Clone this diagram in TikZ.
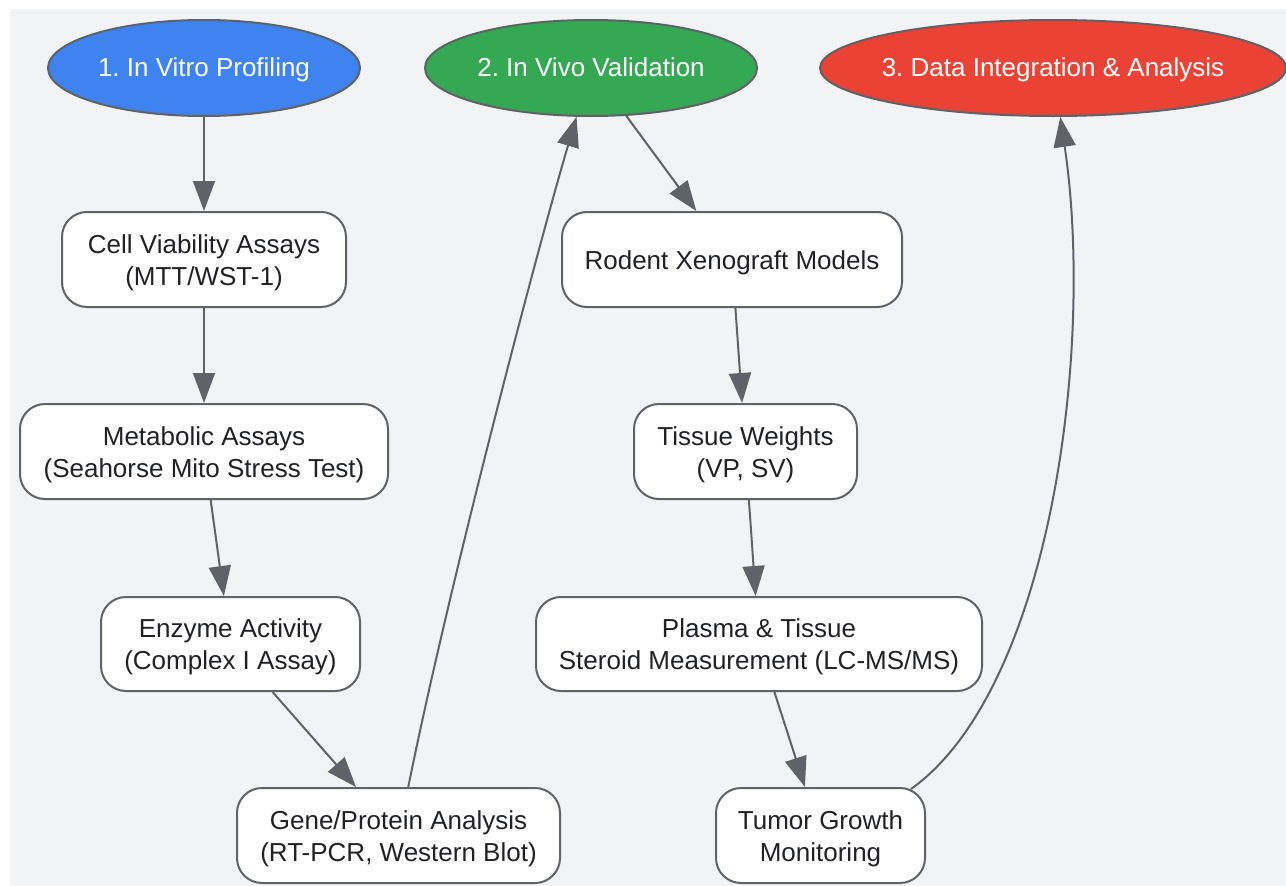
\documentclass[tikz,border=0pt]{standalone}
\usepackage{fontspec}
\setmainfont{Liberation Sans}
\usetikzlibrary{shapes.geometric,arrows.meta}
\frenchspacing
\definecolor{bgc}{HTML}{F1F3F5}
\definecolor{edgec}{HTML}{5F6368}
\definecolor{txtc}{HTML}{202124}
\definecolor{blueE}{HTML}{3F83F1}
\definecolor{greenE}{HTML}{34A853}
\definecolor{redE}{HTML}{EA4335}
\newcommand{\mystrut}{\rule[-7pt]{0pt}{30pt}}
\newcommand{\bs}{\rule[-6pt]{0pt}{31pt}}
\newcommand{\ztext}[1]{\makebox[0pt]{\mystrut#1\mystrut}}
\tikzset{
  stage/.style={ellipse, draw=edgec, line width=2pt, inner sep=0pt, text=white, font=\fontsize{26}{32}\selectfont},
  stepbox/.style={rectangle, rounded corners=25pt, draw=edgec, line width=2pt, fill=white, inner sep=0pt, text=txtc, align=center, font=\fontsize{26}{32}\selectfont},
  conn/.style={draw=edgec, line width=2pt, -{Triangle[length=30pt,width=22pt]}}
}
\begin{document}
\begin{tikzpicture}[x=1pt,y=-1pt]
\useasboundingbox (0,0) rectangle (1286,886);
\fill[bgc] (10,9) rectangle (1286,886);
% stage ellipses
\node[stage, fill=blueE, minimum width=312pt, minimum height=96pt] (E1) at (204,68) {\ztext{1. In Vitro Profiling}};
\node[stage, fill=greenE, minimum width=332pt, minimum height=96pt] (E2) at (591,68) {\ztext{2. In Vivo Validation}};
\node[stage, fill=redE, minimum width=466pt, minimum height=96pt] (E3) at (1053,68) {\ztext{3. Data Integration \& Analysis}};
% left column
\node[stepbox, minimum width=284pt, minimum height=95pt] (A) at (204,259.5) {\bs Cell Viability Assays\\(MTT/WST-1)\bs};
\node[stepbox, minimum width=368pt, minimum height=95pt] (B) at (204,451.5) {\bs Metabolic Assays\\(Seahorse Mito Stress Test)\bs};
\node[stepbox, minimum width=259pt, minimum height=94pt] (C) at (230.5,644) {\bs Enzyme Activity\\(Complex I Assay)\bs};
\node[stepbox, minimum width=323pt, minimum height=95pt] (D) at (398.5,835.5) {\bs Gene/Protein Analysis\\(RT-PCR, Western Blot)\bs};
% right column
\node[stepbox, minimum width=340pt, minimum height=95pt] (E) at (732,259.5) {\bs Rodent Xenograft Models\bs};
\node[stepbox, minimum width=223pt, minimum height=95pt] (F) at (745.5,451.5) {\bs Tissue Weights\\(VP, SV)\bs};
\node[stepbox, minimum width=446pt, minimum height=94pt] (G) at (759,644) {\bs Plasma \& Tissue\\Steroid Measurement (LC-MS/MS)\bs};
\node[stepbox, minimum width=209pt, minimum height=95pt] (H) at (820.5,835.5) {\bs Tumor Growth\\Monitoring\bs};
% connectors
\draw[conn] (E1) -- (A);
\draw[conn] (A) -- (B);
\draw[conn] (B) -- (C);
\draw[conn] (C) -- (D);
\draw[conn] (D) .. controls (450,580) and (540,240) .. (E2);
\draw[conn] (E2) -- (E);
\draw[conn] (E) -- (F);
\draw[conn] (F) -- (G);
\draw[conn] (G) -- (H);
\draw[conn] ([shift={(-15pt,-2pt)}]H.north east) .. controls (1050,690) and (1095,350) .. (E3);
\end{tikzpicture}
\end{document}
